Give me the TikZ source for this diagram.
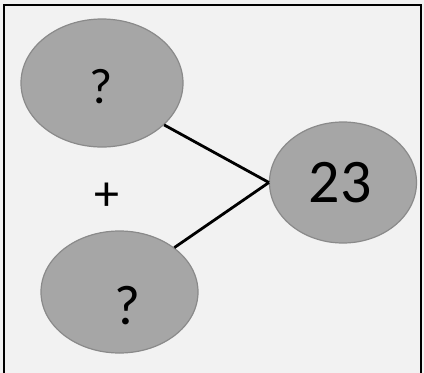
\documentclass[tikz,border=0pt]{standalone}
\usepackage{fontspec}
\setmainfont{Carlito}
\usetikzlibrary{shapes.geometric}
\definecolor{bgc}{HTML}{F2F2F2}
\definecolor{ellfill}{HTML}{A6A6A6}
\definecolor{elldraw}{HTML}{8A8A8A}
\begin{document}
\begin{tikzpicture}[x=1pt,y=-1pt,
  oval/.style={ellipse, fill=ellfill, draw=elldraw, line width=1.2pt, inner sep=0pt},
  link/.style={line width=2.8pt, black}]
\useasboundingbox (0,0) rectangle (424,373);
\fill[bgc] (0,0) rectangle (424,373);
\draw[line width=2pt] (4,375) -- (4,5) -- (421,5) -- (421,375);
\node[oval, minimum width=162pt, minimum height=128pt] (top) at (102,83) {};
\node[oval, minimum width=157pt, minimum height=122pt] (bot) at (119.5,292) {};
\node[oval, minimum width=147pt, minimum height=121pt] (sum) at (343,182.5) {};
\node[font=\fontsize{50}{54}\selectfont] (qtop) at (101,87) {?};
\node[font=\fontsize{56}{60}\selectfont] (qbot) at (127,306) {?};
\node[font=\fontsize{62}{66}\selectfont] (num) at (340,183) {23};
\node[font=\fontsize{50}{54}\selectfont] (plus) at (107,197) {+};
\draw[link] (top.-34) -- (sum.west);
\draw[link] (bot.39) -- (sum.west);
\end{tikzpicture}
\end{document}
